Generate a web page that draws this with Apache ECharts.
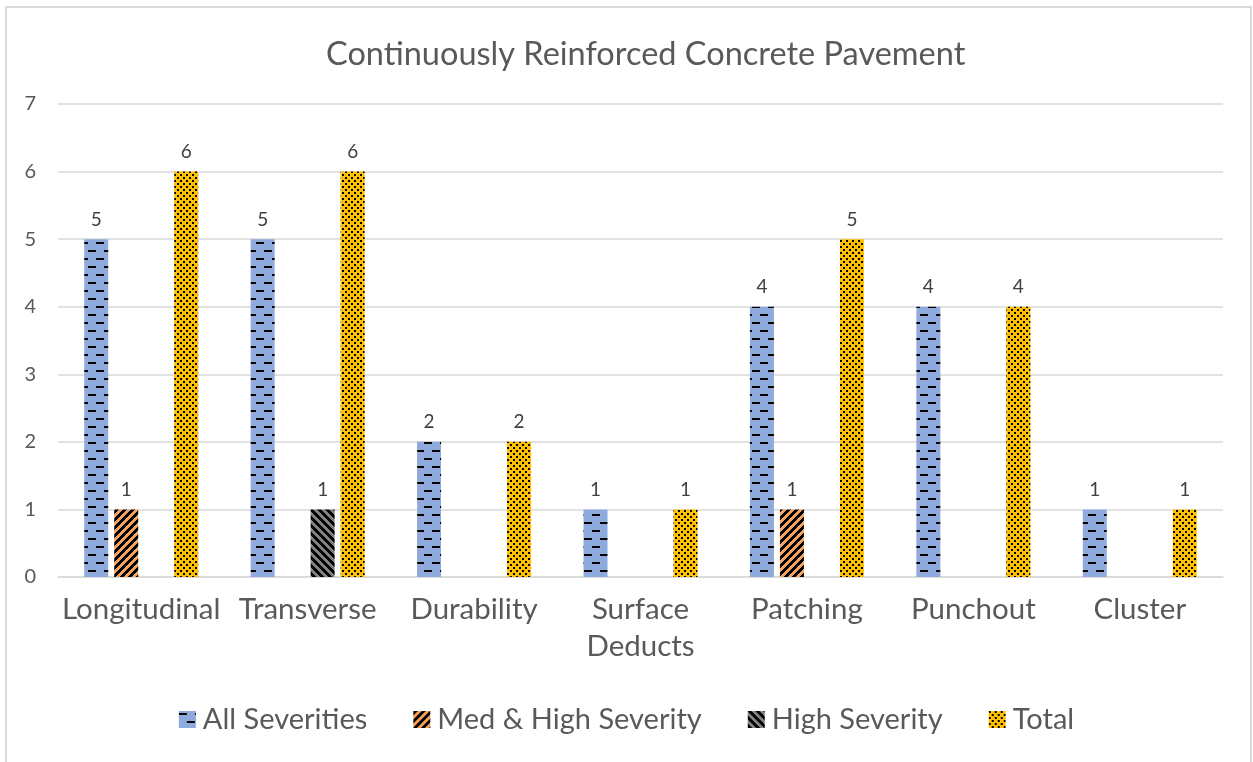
<!DOCTYPE html>
<html>
<head>
<meta charset="utf-8">
<script src="https://cdn.jsdelivr.net/npm/echarts@6/dist/echarts.min.js"></script>
<style>
  html, body { margin: 0; padding: 0; background: #fff; }
  #chart-container { width: 1253px; height: 762px; }
</style>
</head>
<body>
<div id="chart-container"></div>
<script>
var categories = ['Longitudinal', 'Transverse', 'Durability', 'Surface\nDeducts', 'Patching', 'Punchout', 'Cluster'];
var allSeverities = [5, 5, 2, 1, 4, 4, 1];
var medHighSeverity = [1, null, null, null, 1, null, null];
var highSeverity = [null, 1, null, null, null, null, null];
var total = [6, 6, 2, 1, 5, 4, 1];
var yTicks = { min: 0, max: 7, interval: 1 };

// pixel pattern tiles, roughly like the office fill patterns
function makeTile(size, painter) {
    var c = document.createElement('canvas');
    c.width = size;
    c.height = size;
    var ctx = c.getContext('2d');
    for (var y = 0; y < size; y++) {
        for (var x = 0; x < size; x++) {
            ctx.fillStyle = painter(x, y);
            ctx.fillRect(x, y, 1, 1);
        }
    }
    return { image: c, repeat: 'repeat' };
}

var bluePattern = makeTile(16, function (x, y) {
    if ((y === 2 || y === 3) && x >= 0 && x < 8) return '#000';
    if ((y === 10 || y === 11) && x >= 8 && x < 16) return '#000';
    return '#8FAADC';
});
var orangePattern = makeTile(8, function (x, y) {
    return ((x + y) % 8) < 4 ? '#000' : '#F4A15D';
});
var greyPattern = makeTile(8, function (x, y) {
    return ((x - y + 8) % 8) < 4 ? '#000' : '#808080';
});
var yellowPattern = makeTile(6, function (x, y) {
    var a = x < 2 && y < 2;
    var b = x >= 3 && x < 5 && y >= 3 && y < 5;
    return a || b ? '#000' : '#FFC000';
});

var labelStyle = {
    show: true,
    position: 'top',
    distance: 10,
    color: '#404040',
    fontSize: 19,
    fontFamily: 'Lato'
};

function barSeries(name, data, pattern) {
    return {
        name: name,
        type: 'bar',
        data: data,
        barWidth: 24,
        barGap: '25%',
        itemStyle: { color: pattern },
        label: labelStyle
    };
}

var option = {
    animation: false,
    textStyle: { fontFamily: 'Lato' },
    title: {
        text: 'Continuously Reinforced Concrete Pavement',
        left: 321,
        top: 33,
        textStyle: { fontSize: 32.5, fontWeight: 'normal', color: '#595959', fontFamily: 'Lato' }
    },
    grid: {
        left: 58,
        right: 30,
        top: 104,
        bottom: 185,
        containLabel: false
    },
    legend: {
        top: 700,
        left: 'center',
        itemWidth: 17,
        itemHeight: 17,
        itemGap: 46,
        icon: 'rect',
        textStyle: { fontSize: 29, color: '#595959', fontFamily: 'Lato', padding: [0, 0, 0, 2] },
        data: ['All Severities', 'Med & High Severity', 'High Severity', 'Total']
    },
    xAxis: {
        type: 'category',
        data: categories,
        axisLine: { lineStyle: { color: '#D9D9D9', width: 1.5 } },
        axisTick: { show: false },
        axisLabel: {
            color: '#595959',
            fontSize: 29.5,
            margin: 14,
            lineHeight: 37,
            interval: 0
        }
    },
    yAxis: {
        type: 'value',
        min: yTicks.min,
        max: yTicks.max,
        interval: yTicks.interval,
        axisLine: { show: false },
        axisTick: { show: false },
        axisLabel: { color: '#595959', fontSize: 20, margin: 22 },
        splitLine: { lineStyle: { color: '#D9D9D9', width: 1.5 } }
    },
    graphic: [{
        type: 'rect',
        shape: { x: 6, y: 7, width: 1245, height: 760 },
        style: { fill: 'none', stroke: '#D9D9D9', lineWidth: 2 },
        silent: true
    }],
    series: [
        barSeries('All Severities', allSeverities, bluePattern),
        barSeries('Med & High Severity', medHighSeverity, orangePattern),
        barSeries('High Severity', highSeverity, greyPattern),
        barSeries('Total', total, yellowPattern)
    ]
};

var myChart = echarts.init(document.getElementById('chart-container'), null, { renderer: 'canvas' });
myChart.setOption(option);
</script>
</body>
</html>
